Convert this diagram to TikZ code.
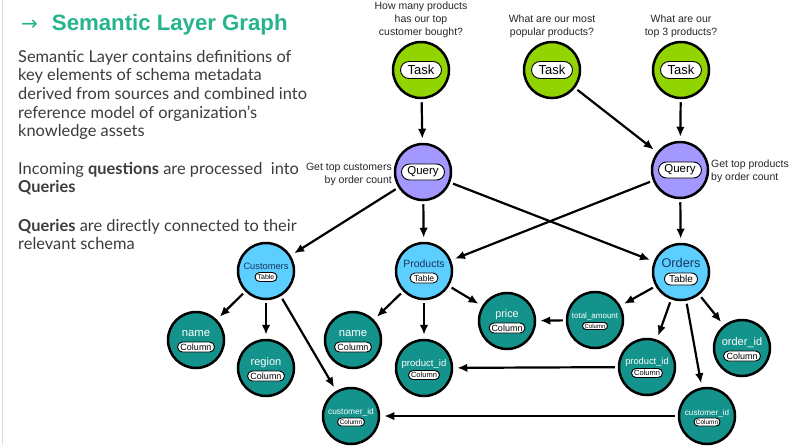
\documentclass[tikz,border=0pt]{standalone}
\usepackage{fontspec}
\setmainfont{Liberation Sans}
\newfontfamily\bodyfont{Lato}
\newfontfamily\symfont{DejaVu Sans}
\usetikzlibrary{arrows.meta,shapes.misc}
\definecolor{taskgreen}{RGB}{146,212,0}
\definecolor{querypurple}{RGB}{162,152,255}
\definecolor{tableblue}{RGB}{92,206,255}
\definecolor{colteal}{RGB}{20,146,140}
\definecolor{titlegreen}{RGB}{38,180,140}
\definecolor{bodygray}{RGB}{60,60,60}
\definecolor{tabletxt}{RGB}{25,55,95}
\definecolor{edgeline}{RGB}{215,220,230}
\tikzset{
  circ/.style={circle, draw=black, line width=2.5pt, minimum size=56pt, inner sep=0pt},
  taskc/.style={circ, fill=taskgreen},
  queryc/.style={circ, fill=querypurple},
  tablec/.style={circ, fill=tableblue},
  colc/.style={circ, fill=colteal},
  pill/.style={rounded rectangle, draw=black, fill=white, line width=0.9pt, inner xsep=2pt, inner ysep=0.5pt, text=black},
  tname/.style={text=tabletxt, inner sep=0pt},
  cname/.style={text=white, inner sep=0pt},
  qtext/.style={text=black!85, align=center, inner sep=0pt, font=\fontsize{10.5}{13}\selectfont},
  body/.style={text=bodygray, align=left, anchor=north west, inner sep=0pt, font=\bodyfont\fontsize{16.4}{18.6}\selectfont},
  arr/.style={-{Latex[length=10pt,width=8.5pt]}, line width=2.2pt, shorten <=3pt, shorten >=4pt},
}
\begin{document}
\begin{tikzpicture}[x=1pt,y=-1pt]
\useasboundingbox (0,0) rectangle (800,445);
\fill[white] (0,0) rectangle (800,445);
\draw[edgeline, line width=1.5pt] (2.5,0) -- (2.5,445);

% title and body text
\node[anchor=base west, text=titlegreen, inner sep=0pt] (title) at (21,30)
  {{\symfont\fontsize{20}{24}\selectfont →}\hspace{14pt}{\fontsize{22.2}{26}\selectfont\bfseries Semantic Layer Graph}};
\node[body] (p1) at (18,50) {Semantic Layer contains definitions of\\key elements of schema metadata\\derived from sources and combined into\\reference model of organization’s\\knowledge assets};
\node[body] (p2) at (18,162) {Incoming \textbf{questions} are processed\ \ into\\\textbf{Queries}};
\node[body] (p3) at (18,219) {\textbf{Queries} are directly connected to their\\relevant schema};

% tasks
\node[taskc] (t1) at (421,70) {};
\node[taskc] (t2) at (552,70) {};
\node[taskc] (t3) at (681,70) {};
\foreach \n in {t1,t2,t3}{
  \node[pill, minimum width=45pt, minimum height=17pt, font=\fontsize{13}{15}\selectfont] (\n p) at (\n) {Task};
}
\node[qtext, anchor=south] (t1q) at (421,38) {How many products\\has our top\\customer bought?};
\node[qtext, anchor=south] (t2q) at (552,38) {What are our most\\popular products?};
\node[qtext, anchor=south] (t3q) at (681,38) {What are our\\top 3 products?};

% queries
\node[queryc] (q1) at (423,172) {};
\node[queryc] (q2) at (680,170) {};
\node[pill, minimum width=47pt, minimum height=16pt, font=\fontsize{11.5}{14}\selectfont] (q1p) at (q1) {Query};
\node[pill, minimum width=47pt, minimum height=16pt, font=\fontsize{11.5}{14}\selectfont] (q2p) at (q2) {Query};
\node[qtext, align=right, anchor=east] (q1l) at (392,174) {Get top customers\\by order count};
\node[qtext, align=left, anchor=west] (q2l) at (711,171) {Get top products\\by order count};

% tables
\node[tablec] (cu) at (266,271) {};
\node[tablec] (pr) at (424,271) {};
\node[tablec] (or) at (681,272) {};
\node[tname, font=\fontsize{9.3}{11}\selectfont] (cuT) at ([yshift=5pt]cu.center) {Customers};
\node[pill, minimum width=26pt, minimum height=9pt, inner ysep=0.2pt, font=\fontsize{7}{8}\selectfont] (cuP) at ([yshift=-6pt]cu.center) {Table};
\node[tname, font=\fontsize{10.5}{12}\selectfont] (prT) at ([yshift=7pt]pr.center) {Products};
\node[pill, minimum width=32pt, minimum height=10pt, inner ysep=0.2pt, font=\fontsize{8.5}{9}\selectfont] (prP) at ([yshift=-7pt]pr.center) {Table};
\node[tname, font=\fontsize{12.7}{14}\selectfont] (orT) at ([yshift=9pt]or.center) {Orders};
\node[pill, minimum width=37pt, minimum height=12pt, inner ysep=0.2pt, font=\fontsize{10}{11}\selectfont] (orP) at ([yshift=-7pt]or.center) {Table};

% columns
\node[colc] (cn) at (196,340) {};
\node[colc] (cr) at (266,368) {};
\node[colc] (cc) at (351,416) {};
\node[colc] (pn) at (353,340) {};
\node[colc] (pp) at (424,368) {};
\node[colc] (pc) at (507,321) {};
\node[colc] (ot) at (595,320) {};
\node[colc] (op) at (647,367) {};
\node[colc] (oo) at (742,348) {};
\node[colc] (oc) at (707,416) {};

\node[cname, font=\fontsize{11.3}{13}\selectfont] (cnT) at ([yshift=6pt]cn.center) {name};
\node[pill, minimum width=41pt, minimum height=10pt, font=\fontsize{9}{10}\selectfont] (cnP) at ([yshift=-7pt]cn.center) {Column};
\node[cname, font=\fontsize{11}{13}\selectfont] (crT) at ([yshift=5pt]cr.center) {region};
\node[pill, minimum width=41pt, minimum height=10pt, font=\fontsize{9}{10}\selectfont] (crP) at ([yshift=-8pt]cr.center) {Column};
\node[cname, font=\fontsize{8.4}{10}\selectfont] (ccT) at ([yshift=4pt]cc.center) {customer\_id};
\node[pill, minimum width=31pt, minimum height=8pt, inner ysep=0.2pt, font=\fontsize{6.5}{7}\selectfont] (ccP) at ([yshift=-6pt]cc.center) {Column};

\node[cname, font=\fontsize{11.3}{13}\selectfont] (pnT) at ([yshift=6pt]pn.center) {name};
\node[pill, minimum width=41pt, minimum height=10pt, font=\fontsize{9}{10}\selectfont] (pnP) at ([yshift=-7pt]pn.center) {Column};
\node[cname, font=\fontsize{9.6}{11}\selectfont] (ppT) at ([yshift=4pt]pp.center) {product\_id};
\node[pill, minimum width=35pt, minimum height=9pt, inner ysep=0.2pt, font=\fontsize{7.5}{8}\selectfont] (ppP) at ([yshift=-7pt]pp.center) {Column};
\node[cname, font=\fontsize{10.8}{12}\selectfont] (pcT) at ([yshift=6pt]pc.center) {price};
\node[pill, minimum width=40pt, minimum height=10pt, font=\fontsize{9}{10}\selectfont] (pcP) at ([yshift=-7pt]pc.center) {Column};

\node[cname, font=\fontsize{8}{9}\selectfont] (otT) at ([yshift=4pt]ot.center) {total\_amount};
\node[pill, minimum width=29pt, minimum height=7pt, inner ysep=0.1pt, font=\fontsize{6}{7}\selectfont] (otP) at ([yshift=-6pt]ot.center) {Column};
\node[cname, font=\fontsize{9.3}{11}\selectfont] (opT) at ([yshift=5pt]op.center) {product\_id};
\node[pill, minimum width=35pt, minimum height=9pt, inner ysep=0.2pt, font=\fontsize{7.5}{8}\selectfont] (opP) at ([yshift=-6pt]op.center) {Column};
\node[cname, font=\fontsize{11}{13}\selectfont] (ooT) at ([yshift=5pt]oo.center) {order\_id};
\node[pill, minimum width=41pt, minimum height=10pt, font=\fontsize{9}{10}\selectfont] (ooP) at ([yshift=-8pt]oo.center) {Column};
\node[cname, font=\fontsize{8.1}{9}\selectfont] (ocT) at ([yshift=3pt]oc.center) {customer\_id};
\node[pill, minimum width=30pt, minimum height=8pt, inner ysep=0.2pt, font=\fontsize{6.5}{7}\selectfont] (ocP) at ([yshift=-6pt]oc.center) {Column};

% connectors
\draw[arr] (t1) -- (q1);
\draw[arr] (t2) -- (q2);
\draw[arr] (t3) -- (q2);
\draw[arr] (q1) -- (cu);
\draw[arr] (q1) -- (pr);
\draw[arr] (q1) -- (or);
\draw[arr] (q2) -- (pr);
\draw[arr] (q2) -- (or);
\draw[arr] (cu) -- (cn);
\draw[arr] (cu) -- (cr);
\draw[arr] (cu) -- (cc);
\draw[arr] (pr) -- (pn);
\draw[arr] (pr) -- (pp);
\draw[arr] (pr) -- (pc);
\draw[arr] (or) -- (ot);
\draw[arr] (or) -- (op);
\draw[arr] (or) -- (oc);
\draw[arr] (or) -- (oo);
\draw[arr] (ot) -- (pc);
\draw[arr] (op) -- (pp);
\draw[arr] (oc) -- (cc);
\end{tikzpicture}
\end{document}
